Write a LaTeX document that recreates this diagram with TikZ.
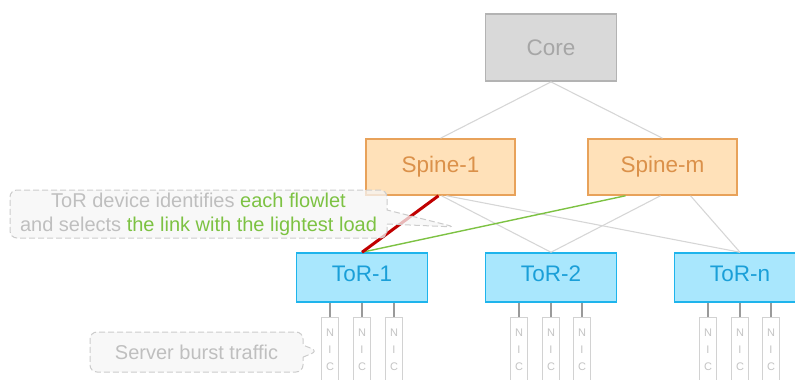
\documentclass[tikz,border=0pt]{standalone}
\usepackage{fontspec}
\setmainfont{Liberation Sans}
\usetikzlibrary{calc,shapes.callouts}

\definecolor{corefill}{HTML}{D9D9D9}
\definecolor{coreline}{HTML}{B3B3B3}
\definecolor{coretext}{HTML}{A6A6A6}
\definecolor{spinefill}{HTML}{FFE1B9}
\definecolor{spineline}{HTML}{E8A25A}
\definecolor{spinetext}{HTML}{DB914A}
\definecolor{torfill}{HTML}{A9E7FD}
\definecolor{torline}{HTML}{1EB4EC}
\definecolor{tortext}{HTML}{1A9FD8}
\definecolor{linkgray}{HTML}{D6D6D6}
\definecolor{hotred}{HTML}{C00000}
\definecolor{leafgreen}{HTML}{7DC243}
\definecolor{notegray}{HTML}{BFBFBF}
\definecolor{notefill}{HTML}{F6F6F6}
\definecolor{noteline}{HTML}{CCCCCC}
\definecolor{nicline}{HTML}{D2D2D2}
\definecolor{nictext}{HTML}{C4C4C4}
\definecolor{stubgray}{HTML}{9A9A9A}

\begin{document}
\begin{tikzpicture}[x=1pt,y=-1pt,
  box/.style={rectangle, line width=1.5pt, inner sep=0pt,
    font=\fontsize{22.5}{27}\selectfont},
  corebox/.style={box, draw=coreline, fill=corefill, text=coretext,
    line width=1.8pt, minimum width=131pt, minimum height=67pt},
  spinebox/.style={box, draw=spineline, fill=spinefill, text=spinetext,
    minimum width=149pt, minimum height=56pt},
  torbox/.style={box, draw=torline, fill=torfill, text=tortext,
    text depth=8pt, minimum width=131pt, minimum height=49pt},
  link/.style={draw=linkgray, line width=1.1pt},
  hotlink/.style={draw=hotred, line width=3pt},
  coollink/.style={draw=leafgreen, line width=1.4pt},
  stub/.style={draw=stubgray, line width=1.4pt},
  nic/.style={rectangle, draw=nicline, fill=white, line width=1pt,
    minimum width=17pt, minimum height=80pt, anchor=north, inner sep=0pt,
    label={[text=nictext, anchor=north, inner sep=0pt, yshift=-12pt,
      align=center, font=\fontsize{11}{17}\selectfont]north:N\\I\\C}},
  note/.style={rectangle callout, draw=noteline, dash pattern=on 6pt off 3pt,
    fill=notefill, fill opacity=0.75, text opacity=1, rounded corners=7pt,
    line width=1pt, text=notegray, inner sep=0pt, align=center,
    font=\fontsize{20}{24}\selectfont}]

\useasboundingbox (0,0) rectangle (795,380);

% switches
\node[corebox]  (core)   at (551,47.5)  {Core};
\node[spinebox] (spine1) at (440.5,167) {Spine-1};
\node[spinebox] (spinem) at (662.5,167) {Spine-m};
\node[torbox]   (tor1)   at (362,277.5) {ToR-1};
\node[torbox]   (tor2)   at (551,277.5) {ToR-2};
\node[torbox]   (torn)   at (740,277.5) {ToR-n};

% core to spine
\draw[link] (core.south) -- (spine1.north);
\draw[link] (core.south) -- (spinem.north);

% spine to ToR
\draw[link] ($(spine1.south)+(1,0)$) -- (tor2.north);
\draw[link] ($(spine1.south)+(6,0)$) -- (torn.north);
\draw[link] ($(spinem.south)+(-2,0)$) -- (tor2.north);
\draw[link] ($(spinem.south)+(28,0)$) -- (torn.north);
\draw[coollink] ($(spinem.south)+(-37,0)$) -- (tor1.north);
\draw[hotlink] ($(spine1.south)+(-2,0)$) -- (tor1.north);

% server NICs
\foreach \t/\xa/\xb/\xc in {tor1/330/362/394, tor2/519/551/582, torn/708/740/771}{
  \node[nic] (\t-a) at (\xa,317) {};
  \node[nic] (\t-b) at (\xb,317) {};
  \node[nic] (\t-c) at (\xc,317) {};
  \draw[stub] (\t-a.north |- \t.south) -- (\t-a.north);
  \draw[stub] (\t-b.north |- \t.south) -- (\t-b.north);
  \draw[stub] (\t-c.north |- \t.south) -- (\t-c.north);
}

% annotations
\node[note, minimum width=377pt, minimum height=48pt,
  callout absolute pointer={(455,227)}, callout pointer width=14pt]
  (flownote) at (198.5,214)
  {ToR device identifies {\color{leafgreen}each flowlet}\\
   and selects {\color{leafgreen}the link with the lightest load}};

\node[note, minimum width=213pt, minimum height=40pt,
  callout absolute pointer={(318,351)}, callout pointer width=12pt]
  (burstnote) at (196.5,352) {Server burst traffic};

\end{tikzpicture}
\end{document}
